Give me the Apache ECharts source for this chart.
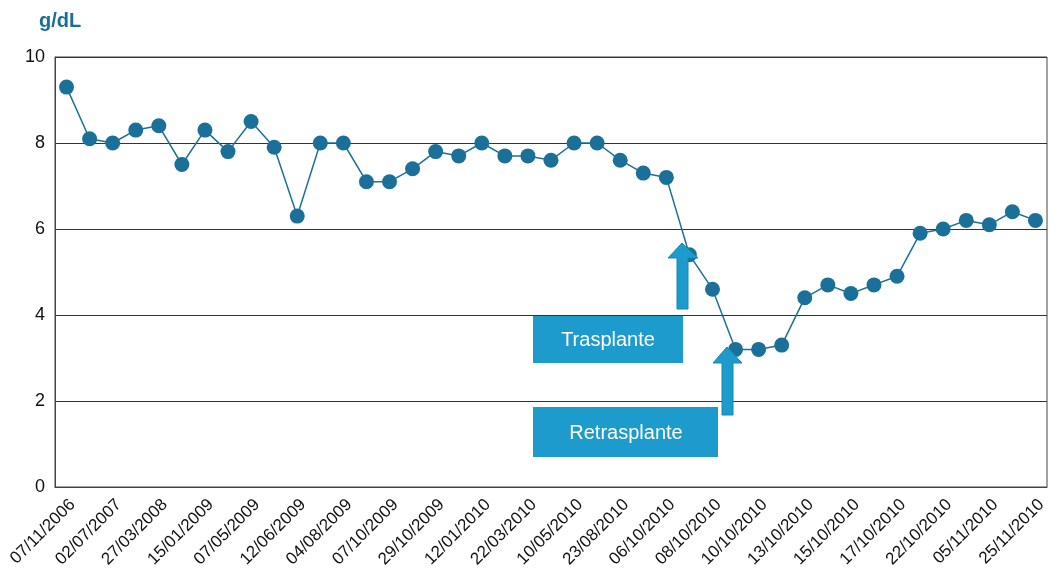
<!DOCTYPE html>
<html>
<head>
<meta charset="utf-8">
<script src="https://cdn.jsdelivr.net/npm/echarts@6/dist/echarts.min.js"></script>
<style>
  html, body { margin: 0; padding: 0; background: #fff; }
  #chart { width: 1051px; height: 579px; }
</style>
</head>
<body>
<div id="chart"></div>
<script>
// etiquetas del eje x (una de cada dos mediciones)
var tickLabels = ['07/11/2006', '02/07/2007', '27/03/2008', '15/01/2009', '07/05/2009', '12/06/2009',
  '04/08/2009', '07/10/2009', '29/10/2009', '12/01/2010', '22/03/2010', '10/05/2010', '23/08/2010',
  '06/10/2010', '08/10/2010', '10/10/2010', '13/10/2010', '15/10/2010', '17/10/2010', '22/10/2010',
  '05/11/2010', '25/11/2010']

// hemoglobina g/dL
var hb = [9.3, 8.1, 8.0, 8.3, 8.4, 7.5, 8.3, 7.8, 8.5, 7.9, 6.3, 8.0, 8.0, 7.1, 7.1, 7.4, 7.8, 7.7,
  8.0, 7.7, 7.7, 7.6, 8.0, 8.0, 7.6, 7.3, 7.2, 5.4, 4.6, 3.2, 3.2, 3.3, 4.4, 4.7, 4.5, 4.7, 4.9,
  5.9, 6.0, 6.2, 6.1, 6.4, 6.2]

var yTicks = [0, 2, 4, 6, 8, 10]

// las fechas intermedias no aparecen en el eje
var categories = []
for (var i = 0; i < hb.length; i++) {
  categories.push(i % 2 === 0 ? tickLabels[i / 2] : '')
}

var blue = '#1b7099'
var boxBlue = '#1e9bcd'

var chart = echarts.init(document.getElementById('chart'))

var option = {
  animation: false,
  title: {
    text: 'g/dL',
    left: 34,
    top: 6,
    textStyle: { color: '#1a6f9a', fontSize: 20, fontWeight: 'bold', fontFamily: 'Liberation Sans' }
  },
  grid: {
    left: 55,
    right: 4,
    top: 57,
    bottom: 92,
    show: true,
    borderColor: '#444',
    borderWidth: 1
  },
  xAxis: {
    type: 'category',
    data: categories,
    boundaryGap: true,
    axisLine: { lineStyle: { color: '#444', width: 1 } },
    axisTick: { show: false },
    axisLabel: {
      interval: 0,
      rotate: 45,
      margin: 9,
      verticalAlign: 'top',
      color: '#111',
      fontSize: 17,
      fontFamily: 'Liberation Sans'
    }
  },
  yAxis: {
    type: 'value',
    min: yTicks[0],
    max: yTicks[yTicks.length - 1],
    interval: 2,
    axisLine: { show: true, lineStyle: { color: '#444', width: 1 } },
    axisTick: { show: false },
    axisLabel: { color: '#111', fontSize: 18, margin: 10, fontFamily: 'Liberation Sans' },
    splitLine: { show: true, lineStyle: { color: '#333', width: 1 } }
  },
  series: [
    {
      type: 'line',
      data: hb,
      symbol: 'circle',
      symbolSize: 15,
      lineStyle: { color: blue, width: 1.5 },
      itemStyle: { color: blue }
    }
  ],
  graphic: [
    // caja Trasplante
    {
      type: 'rect', z: 100,
      shape: { x: 533, y: 316, width: 150, height: 47 },
      style: { fill: boxBlue }
    },
    {
      type: 'text', z: 101, x: 608, y: 340,
      style: { text: 'Trasplante', fill: '#fff', fontSize: 20, fontFamily: 'Liberation Sans', align: 'center', verticalAlign: 'middle' }
    },
    // caja Retrasplante
    {
      type: 'rect', z: 100,
      shape: { x: 533, y: 407, width: 185, height: 50 },
      style: { fill: boxBlue }
    },
    {
      type: 'text', z: 101, x: 626, y: 433,
      style: { text: 'Retrasplante', fill: '#fff', fontSize: 20, fontFamily: 'Liberation Sans', align: 'center', verticalAlign: 'middle' }
    },
    // flechas
    {
      type: 'polygon', z: 100,
      shape: { points: [[677, 309], [688, 309], [688, 258], [698, 258], [682, 243], [668, 258], [677, 258]] },
      style: { fill: boxBlue, stroke: '#1786b3', lineWidth: 1 }
    },
    {
      type: 'polygon', z: 100,
      shape: { points: [[722, 415], [733, 415], [733, 363], [742, 363], [727, 347], [713, 363], [722, 363]] },
      style: { fill: boxBlue, stroke: '#1786b3', lineWidth: 1 }
    }
  ]
}

chart.setOption(option)
window.addEventListener('resize', function () {
  chart.resize()
})
</script>
</body>
</html>
